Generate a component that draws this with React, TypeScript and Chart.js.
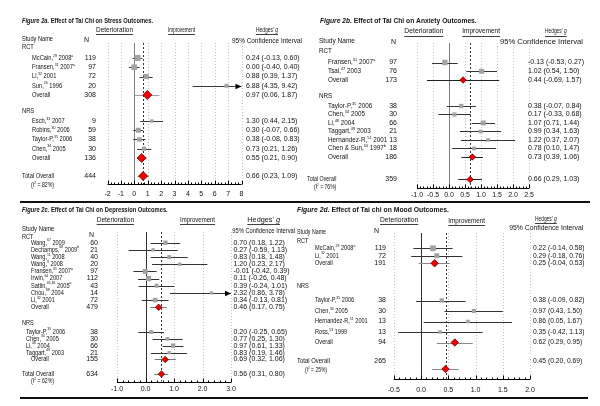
import React, { useEffect, useRef } from 'react';
import { Chart, registerables } from 'chart.js';

Chart.register(...registerables);

const FAM = '"Liberation Sans", Arial, Helvetica, sans-serif';

// ---------- Figure 2a: Stress ----------
const stressRctNames = ['McCain,^{29} 2008^{a}', 'Fransen,^{31} 2007^{a}', 'Li,^{32} 2001', 'Sun,^{26} 1996', 'Overall'];
const stressRctN = [119, 97, 72, 20, 308];
const stressRctG = [0.24, 0.0, 0.88, 6.88, 0.97];
const stressRctLo = [-0.13, -0.4, 0.39, 4.35, 0.06];
const stressRctHi = [0.6, 0.4, 1.37, 9.42, 1.87];
const stressNrsNames = ['Esch,^{33} 2007', 'Robins,^{30} 2006', 'Taylor-P,^{35} 2006', 'Chen,^{34} 2005', 'Overall'];
const stressNrsN = [9, 59, 38, 30, 136];
const stressNrsG = [1.3, 0.3, 0.38, 0.73, 0.55];
const stressNrsLo = [0.44, -0.07, -0.08, 0.21, 0.21];
const stressNrsHi = [2.15, 0.66, 0.83, 1.26, 0.9];
const stressTotal = [444, 0.66, 0.23, 1.09]; // N, g, lo, hi
const stressI2 = 82;
const stressTicks = [-2, -1, 0, 1, 2, 3, 4, 5, 6, 7, 8];

// ---------- Figure 2b: Anxiety ----------
const anxRctNames = ['Fransen,^{31} 2007^{a}', 'Tsai,^{47} 2003', 'Overall'];
const anxRctN = [97, 76, 173];
const anxRctG = [-0.13, 1.02, 0.44];
const anxRctLo = [-0.53, 0.54, -0.69];
const anxRctHi = [0.27, 1.5, 1.57];
const anxNrsNames = ['Taylor-P,^{35} 2006', 'Chen,^{34} 2005', 'Li,^{48} 2004', 'Taggart,^{49} 2003', 'Hernandez-R,^{51} 2001', 'Chen & Sun,^{50} 1997^{b}', 'Overall'];
const anxNrsN = [38, 30, 66, 21, 13, 18, 186];
const anxNrsG = [0.38, 0.17, 1.07, 0.99, 1.22, 0.78, 0.73];
const anxNrsLo = [-0.07, -0.33, 0.71, 0.34, 0.37, 0.1, 0.39];
const anxNrsHi = [0.84, 0.68, 1.44, 1.63, 2.07, 1.47, 1.06];
const anxTotal = [359, 0.66, 0.29, 1.03];
const anxI2 = 76;
const anxTicks = [-1, -0.5, 0, 0.5, 1, 1.5, 2, 2.5];

// ---------- Figure 2c: Depression ----------
const depRctNames = ['Wang,^{67} 2009', 'Dechamps,^{68} 2009^{b}', 'Wang,^{11} 2008', 'Wang,^{9} 2008', 'Fransen,^{31} 2007^{a}', 'Irwin,^{64} 2007', 'Sattin,^{65,66} 2005^{a}', 'Chou,^{69} 2004', 'Li,^{32} 2001', 'Overall'];
const depRctN = [60, 21, 40, 20, 97, 112, 43, 14, 72, 479];
const depRctG = [0.7, 0.27, 0.83, 1.2, -0.01, 0.11, 0.39, 2.32, 0.34, 0.46];
const depRctLo = [0.18, -0.59, 0.18, 0.23, -0.42, -0.26, -0.24, 0.86, -0.13, 0.17];
const depRctHi = [1.22, 1.13, 1.48, 2.17, 0.39, 0.48, 1.01, 3.78, 0.81, 0.75];
const depNrsNames = ['Taylor-P,^{35} 2006', 'Chen,^{34} 2005', 'Li,^{48} 2004', 'Taggart,^{49} 2003', 'Overall'];
const depNrsN = [38, 30, 66, 21, 155];
const depNrsG = [0.2, 0.77, 0.97, 0.83, 0.69];
const depNrsLo = [-0.25, 0.25, 0.61, 0.19, 0.32];
const depNrsHi = [0.65, 1.3, 1.33, 1.46, 1.06];
const depTotal = [634, 0.56, 0.31, 0.8];
const depI2 = 62;
const depTicks = [-1, 0, 1, 2, 3];

// ---------- Figure 2d: Mood ----------
const moodRctNames = ['McCain,^{29} 2008^{a}', 'Li,^{32} 2001', 'Overall'];
const moodRctN = [119, 72, 191];
const moodRctG = [0.22, 0.29, 0.25];
const moodRctLo = [-0.14, -0.18, -0.04];
const moodRctHi = [0.58, 0.76, 0.53];
const moodNrsNames = ['Taylor-P,^{35} 2006', 'Chen,^{34} 2005', 'Hernandez-R,^{51} 2001', 'Ross,^{53} 1999', 'Overall'];
const moodNrsN = [38, 30, 13, 13, 94];
const moodNrsG = [0.38, 0.97, 0.86, 0.35, 0.62];
const moodNrsLo = [-0.09, 0.43, 0.05, -0.42, 0.29];
const moodNrsHi = [0.82, 1.5, 1.67, 1.13, 0.95];
const moodTotal = [265, 0.45, 0.2, 0.69];
const moodI2 = 25;
const moodTicks = [-0.5, 0, 0.5, 1, 1.5, 2];

// ---------- Layout / style (positions in px) ----------
const AXIS_H = 20;

const LAYOUT_A = {
  left: 107.5, right: 241.5, top: 43, axis: 184,
  origin: 58, rowH: 9.25, steps: [1, 1], nrsStart: 6.81, totalAt: 12.76,
  headDy: [-11, -10], totalTextDy: 0, i2Dy: 9, tickDy: 10,
  diamond: 4.5, sq: [2.5, 0.32], minor: 0.25, dec: 0,
  lineStudy: '#3a3a3a', lineSum: '#9a9a9a', zero: '#808080',
  fs: 7, titleFs: 7.5,
  title: [22, 21, 131], det: [96, 30, 37], imp: [168, 30, 27], hedges: [256, 30, 22],
  study: [22, 39, 31], nHead: [84, 40], ciHead: [232, 41, 70],
  xHead: 22, xName: [32, 32], sxName: 0.82, xN: 96, xCI: 246, sxCI: 1,
  xTotal: 22, wTotal: 32, xI2: 31, wI2: 23,
};
const LAYOUT_B = {
  left: 417, right: 529, top: 43, axis: 187.5,
  origin: 62.5, rowH: 8.75, steps: [1, 0.971], nrsStart: 4.971, totalAt: 13.371,
  headDy: [-11, -10], totalTextDy: 0, i2Dy: 8, tickDy: 7.5,
  diamond: 3.2, sq: [2.5, 0.3], minor: 0.1, dec: 1,
  lineStudy: '#333333', lineSum: '#222222', zero: '#808080',
  fs: 7, titleFs: 7.5,
  title: [320, 21, 156.7], det: [404.3, 31.5, 39], imp: [462.3, 31.5, 37.7], hedges: [545, 31.5, 21.7],
  study: [319, 41.5, 36], nHead: [391, 42.5], ciHead: [500, 42.5, 83],
  xHead: 319, xName: [328, 328], sxName: 0.9, xN: 397, xCI: 528, sxCI: 1,
  xTotal: 307, wTotal: 29.3, xI2: 314, wI2: 22.3,
};
const LAYOUT_C = {
  left: 117, right: 231, top: 232, axis: 381.5,
  origin: 242.7, rowH: 7.17, steps: [1, 0.96], nrsStart: 12.45, totalAt: 18.31,
  headDy: [-5.4, -8.5], totalTextDy: 0, i2Dy: 7.3, tickDy: 8,
  diamond: 3.2, sq: [2, 0.3], minor: 0.2, dec: 1,
  lineStudy: '#333333', lineSum: '#777777', zero: '#333333',
  fs: 7, titleFs: 7.5,
  title: [22, 210, 145.7], det: [96.7, 220, 37.3], imp: [180, 220, 35], hedges: [247.3, 220, 32.7],
  study: [22, 229.3, 32.3], nHead: [89, 235], ciHead: [232.3, 231, 62.7],
  xHead: 22, xName: [31, 26], sxName: 0.8, xN: 98, xCI: 233.5, sxCI: 1,
  xTotal: 22, wTotal: 32, xI2: 31, wI2: 23,
};
const LAYOUT_D = {
  left: 393.75, right: 530, top: 233, axis: 379,
  origin: 248.3, rowH: 7.5, steps: [1, 1.4], nrsStart: 6.96, totalAt: 16.09,
  headDy: [-7.3, -14.5], totalTextDy: -8, i2Dy: 9, tickDy: 11.5,
  diamond: 3.7, sq: [2.5, 0.3], minor: 0.1, dec: 1,
  lineStudy: '#333333', lineSum: '#8a8a8a', zero: '#333333',
  fs: 7, titleFs: 7.5,
  title: [297, 210, 152], det: [380, 220, 38.3], imp: [448.3, 221, 36.7], hedges: [535, 219, 21.7],
  study: [297, 232, 29], nHead: [374, 231], ciHead: [509.3, 228, 74],
  xHead: 297, xName: [315, 315], sxName: 0.8, xN: 386, xCI: 533, sxCI: 0.96,
  xTotal: 297, wTotal: 33, xI2: 305, wI2: 22,
};

type Sec = { label: string; names: string[]; n: number[]; g: number[]; lo: number[]; hi: number[] };
type Panel = { title: string; secs: Sec[]; total: number[]; i2: number; ticks: number[]; L: any };

const PANELS: Panel[] = [
  {
    title: '_{Figure 2a.} Effect of Tai Chi on Stress Outcomes.',
    secs: [
      { label: 'RCT', names: stressRctNames, n: stressRctN, g: stressRctG, lo: stressRctLo, hi: stressRctHi },
      { label: 'NRS', names: stressNrsNames, n: stressNrsN, g: stressNrsG, lo: stressNrsLo, hi: stressNrsHi },
    ],
    total: stressTotal, i2: stressI2, ticks: stressTicks, L: LAYOUT_A,
  },
  {
    title: '_{Figure 2b.} Effect of Tai Chi on Anxiety Outcomes.',
    secs: [
      { label: 'RCT', names: anxRctNames, n: anxRctN, g: anxRctG, lo: anxRctLo, hi: anxRctHi },
      { label: 'NRS', names: anxNrsNames, n: anxNrsN, g: anxNrsG, lo: anxNrsLo, hi: anxNrsHi },
    ],
    total: anxTotal, i2: anxI2, ticks: anxTicks, L: LAYOUT_B,
  },
  {
    title: '_{Figure 2c.} Effect of Tai Chi on Depression Outcomes.',
    secs: [
      { label: 'RCT', names: depRctNames, n: depRctN, g: depRctG, lo: depRctLo, hi: depRctHi },
      { label: 'NRS', names: depNrsNames, n: depNrsN, g: depNrsG, lo: depNrsLo, hi: depNrsHi },
    ],
    total: depTotal, i2: depI2, ticks: depTicks, L: LAYOUT_C,
  },
  {
    title: '_{Figure 2d.} Effect of Tai chi on Mood Outcomes.',
    secs: [
      { label: 'RCT', names: moodRctNames, n: moodRctN, g: moodRctG, lo: moodRctLo, hi: moodRctHi },
      { label: 'NRS', names: moodNrsNames, n: moodNrsN, g: moodNrsG, lo: moodNrsLo, hi: moodNrsHi },
    ],
    total: moodTotal, i2: moodI2, ticks: moodTicks, L: LAYOUT_D,
  },
];

type Part = { t: string; sup: boolean; it: boolean };
function parse(s: string): Part[] {
  const out: Part[] = [];
  const re = /([\^_])\{([^}]*)\}/g;
  let last = 0;
  let m: RegExpExecArray | null;
  while ((m = re.exec(s))) {
    if (m.index > last) out.push({ t: s.slice(last, m.index), sup: false, it: false });
    out.push({ t: m[2], sup: m[1] === '^', it: m[1] === '_' });
    last = re.lastIndex;
  }
  if (last < s.length) out.push({ t: s.slice(last), sup: false, it: false });
  return out;
}

function drawText(ctx: CanvasRenderingContext2D, s: string, x: number, y: number, o: any = {}) {
  const size = o.size ?? 7;
  const parts = parse(s);
  const fontOf = (p: Part) =>
    `${o.italic || p.it ? 'italic ' : ''}${o.bold ? 'bold ' : ''}${p.sup ? size * 0.62 : size}px ${FAM}`;
  let nat = 0;
  const ws = parts.map((p) => {
    ctx.font = fontOf(p);
    const w = ctx.measureText(p.t).width;
    nat += w;
    return w;
  });
  const sx = o.w ? o.w / nat : o.sx ?? 1;
  const total = nat * sx;
  let cx = o.align === 'right' ? x - total : o.align === 'center' ? x - total / 2 : x;
  const x0 = cx;
  ctx.fillStyle = o.color ?? '#111';
  ctx.textBaseline = 'middle';
  ctx.textAlign = 'left';
  parts.forEach((p, i) => {
    ctx.font = fontOf(p);
    ctx.save();
    ctx.translate(cx, p.sup ? y - size * 0.38 : y);
    ctx.scale(sx, 1);
    ctx.fillText(p.t, 0, 0);
    ctx.restore();
    cx += ws[i] * sx;
  });
  if (o.underline) ctx.fillRect(x0, Math.round(y + size * 0.6), total, 0.8);
}

type Row = { u: number; name: string; n: number; g: number; lo: number; hi: number; kind: string; sec: number };

function buildRows(P: Panel): Row[] {
  const rows: Row[] = [];
  P.secs.forEach((s, si) => {
    const start = si === 0 ? 0 : P.L.nrsStart;
    const step = P.L.steps[si];
    s.names.forEach((nm, i) =>
      rows.push({
        u: start + i * step, name: nm, n: s.n[i], g: s.g[i], lo: s.lo[i], hi: s.hi[i],
        kind: i === s.names.length - 1 ? 'overall' : 'study', sec: si,
      }),
    );
  });
  const [n, g, lo, hi] = P.total;
  rows.push({ u: P.L.totalAt, name: 'Total Overall', n, g, lo, hi, kind: 'total', sec: -1 });
  return rows;
}

const f2 = (v: number) => v.toFixed(2);

function makeChart(canvas: HTMLCanvasElement, P: Panel, idx: number) {
  const L = P.L;
  const rows = buildRows(P);
  const studies = rows.filter((r) => r.kind === 'study');
  const sums = rows.filter((r) => r.kind !== 'study');
  const totalG = P.total[1];

  const plugin = {
    id: 'forest' + idx,
    beforeDatasetsDraw(chart: any) {
      const { ctx, chartArea: ca, scales } = chart;
      const x = scales.x;
      const y = scales.y;
      const line = (x1: number, y1: number, x2: number, y2: number) => {
        ctx.beginPath();
        ctx.moveTo(x1, y1);
        ctx.lineTo(x2, y2);
        ctx.stroke();
      };
      ctx.save();
      // dotted reference grid at major ticks
      ctx.strokeStyle = '#c2c2c2';
      ctx.lineWidth = 1;
      ctx.setLineDash([1, 2]);
      P.ticks.forEach((v) => {
        if (v === 0) return;
        const px = Math.round(x.getPixelForValue(v)) + 0.5;
        line(px, ca.top, px, ca.bottom);
      });
      // zero line
      ctx.setLineDash([]);
      ctx.strokeStyle = L.zero;
      const z = Math.round(x.getPixelForValue(0)) + 0.5;
      line(z, ca.top, z, ca.bottom);
      // dashed overall effect line
      ctx.setLineDash([2, 2]);
      ctx.strokeStyle = '#333';
      const d = Math.round(x.getPixelForValue(totalG)) + 0.5;
      line(d, ca.top, d, ca.bottom);
      ctx.setLineDash([]);
      // confidence intervals
      rows.forEach((r) => {
        const yy = Math.round(y.getPixelForValue(r.u)) + 0.5;
        const x1 = x.getPixelForValue(Math.max(r.lo, x.min));
        const x2 = x.getPixelForValue(Math.min(r.hi, x.max));
        ctx.strokeStyle = r.kind === 'study' ? L.lineStudy : L.lineSum;
        ctx.lineWidth = 1;
        line(x1, yy, x2, yy);
        if (r.hi > x.max) {
          ctx.fillStyle = '#000';
          ctx.beginPath();
          ctx.moveTo(x2, yy);
          ctx.lineTo(x2 - 6, yy - 2.8);
          ctx.lineTo(x2 - 6, yy + 2.8);
          ctx.closePath();
          ctx.fill();
        }
      });
      // axis ruler with minor ticks
      const ay = Math.round(ca.bottom) + 0.5;
      ctx.strokeStyle = '#000';
      line(x.getPixelForValue(x.min), ay, x.getPixelForValue(x.max), ay);
      const count = Math.round((x.max - x.min) / L.minor);
      for (let k = 0; k <= count; k++) {
        const v = x.min + k * L.minor;
        const major = P.ticks.some((t) => Math.abs(t - v) < 1e-6);
        const px = Math.round(x.getPixelForValue(v)) + 0.5;
        line(px, ay, px, ay - (major ? 4 : 2));
      }
      ctx.restore();
    },
    afterDraw(chart: any) {
      const { ctx, scales } = chart;
      const y = scales.y;
      const fs = L.fs;
      ctx.save();
      drawText(ctx, P.title, L.title[0], L.title[1], { size: L.titleFs, bold: true, w: L.title[2] });
      drawText(ctx, 'Deterioration', L.det[0], L.det[1], { size: fs, w: L.det[2], underline: true });
      drawText(ctx, 'Improvement', L.imp[0], L.imp[1], { size: fs, w: L.imp[2], underline: true });
      drawText(ctx, "Hedges' _{g}", L.hedges[0], L.hedges[1], { size: fs, w: L.hedges[2], underline: true });
      drawText(ctx, 'Study Name', L.study[0], L.study[1], { size: fs, w: L.study[2] });
      drawText(ctx, 'N', L.nHead[0], L.nHead[1], { size: fs });
      drawText(ctx, '95% Confidence Interval', L.ciHead[0], L.ciHead[1], { size: fs, w: L.ciHead[2] });
      P.secs.forEach((s, si) => {
        const first = rows.find((r) => r.sec === si)!;
        drawText(ctx, s.label, L.xHead, y.getPixelForValue(first.u) + L.headDy[si], { size: fs, sx: L.sxName });
      });
      let totalY = 0;
      rows.forEach((r) => {
        const isTotal = r.kind === 'total';
        const ty = y.getPixelForValue(r.u) + (isTotal ? L.totalTextDy : 0);
        if (isTotal) {
          totalY = ty;
          drawText(ctx, r.name, L.xTotal, ty, { size: fs, w: L.wTotal });
        } else {
          const nx = r.kind === 'overall' ? L.xName[0] : L.xName[r.sec];
          drawText(ctx, r.name, nx, ty, { size: fs, sx: L.sxName });
        }
        drawText(ctx, String(r.n), L.xN, ty, { size: fs, align: 'right' });
        drawText(ctx, `${f2(r.g)} (${f2(r.lo)}, ${f2(r.hi)})`, L.xCI, ty, { size: fs, sx: L.sxCI });
      });
      drawText(ctx, `(I^{2} = ${P.i2}%)`, L.xI2, totalY + L.i2Dy, { size: fs, w: L.wI2 });
      ctx.restore();
    },
  };

  return new Chart(canvas, {
    type: 'scatter',
    data: {
      datasets: [
        {
          data: studies.map((r) => ({ x: r.g, y: r.u })),
          pointStyle: 'rect',
          pointRadius: studies.map((r) => (L.sq[0] + L.sq[1] * Math.sqrt(r.n)) / Math.SQRT2),
          backgroundColor: '#a2a2a2',
          borderWidth: 0,
          clip: false,
        } as any,
        {
          data: sums.map((r) => ({ x: r.g, y: r.u })),
          pointStyle: 'rectRot',
          pointRadius: L.diamond,
          backgroundColor: '#f20000',
          borderColor: '#6a0000',
          borderWidth: 0.8,
          clip: false,
        } as any,
      ],
    },
    options: {
      animation: false,
      responsive: false,
      maintainAspectRatio: false,
      devicePixelRatio: 1,
      events: [],
      layout: {
        autoPadding: false,
        padding: { left: L.left, right: 600 - L.right, top: L.top, bottom: 406 - L.axis - AXIS_H },
      },
      plugins: { legend: { display: false }, tooltip: { enabled: false }, title: { display: false } },
      scales: {
        x: {
          type: 'linear',
          min: P.ticks[0],
          max: P.ticks[P.ticks.length - 1],
          afterBuildTicks: (s: any) => {
            s.ticks = P.ticks.map((v) => ({ value: v }));
          },
          afterFit: (s: any) => {
            s.height = AXIS_H;
          },
          ticks: {
            autoSkip: false,
            maxRotation: 0,
            padding: L.tickDy - L.fs * 0.6,
            color: '#111',
            font: { size: L.fs, family: FAM },
            callback: (v: any) => Number(v).toFixed(L.dec),
          },
          grid: { display: false, drawTicks: false, tickLength: 0 },
          border: { display: false },
        },
        y: {
          type: 'linear',
          display: false,
          reverse: true,
          min: (L.top - L.origin) / L.rowH,
          max: (L.axis - L.origin) / L.rowH,
        },
      },
    } as any,
    plugins: [plugin],
  });
}

export default function App() {
  const canvases = useRef<(HTMLCanvasElement | null)[]>([]);
  useEffect(() => {
    const charts = PANELS.map((p, i) => makeChart(canvases.current[i]!, p, i));
    return () => charts.forEach((c) => c.destroy());
  }, []);
  return (
    <div style={{ position: 'absolute', left: 0, top: 0, width: 600, height: 406, background: '#fff', overflow: 'hidden' }}>
      {PANELS.map((_, i) => (
        <canvas
          key={i}
          ref={(el) => {
            canvases.current[i] = el;
          }}
          width={600}
          height={406}
          style={{ position: 'absolute', left: 0, top: 0, width: 600, height: 406 }}
        />
      ))}
      <div style={{ position: 'absolute', left: 20, top: 200.5, width: 570, height: 2, background: '#111' }} />
      <div style={{ position: 'absolute', left: 20, top: 396.5, width: 568, height: 2, background: '#111' }} />
    </div>
  );
}
